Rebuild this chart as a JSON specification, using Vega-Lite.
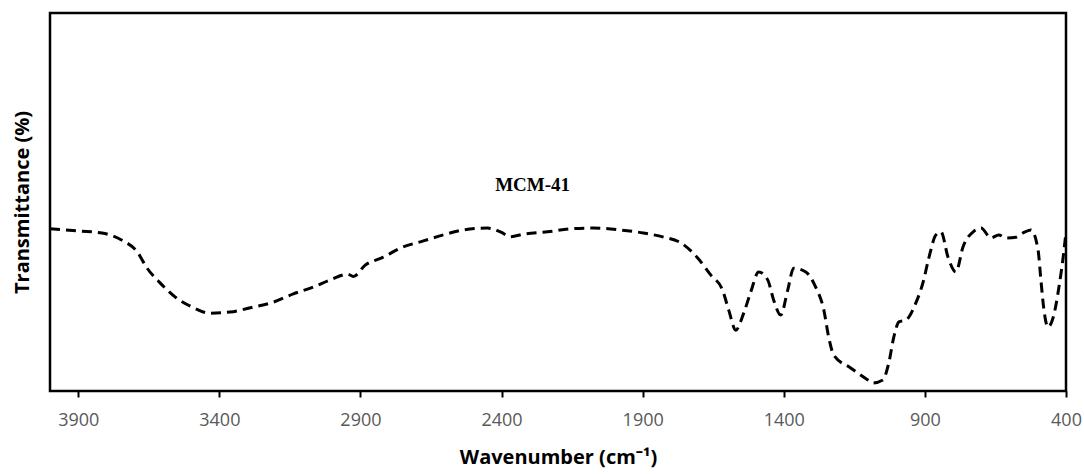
{
  "$schema": "https://vega.github.io/schema/vega-lite/v6.json",
  "autosize": {"type": "none"},
  "padding": {"left": 50, "top": 13, "right": 18, "bottom": 83},
  "width": 1016,
  "height": 378,
  "background": "white",
  "config": {
    "view": {"stroke": "black", "strokeWidth": 2.5},
    "font": "Open Sans"
  },
  "layer": [
    {
      "data": {
        "values": [
          {"wn": 4000, "t": 42.9}, {"wn": 3894, "t": 42.3}, {"wn": 3816, "t": 41.8},
          {"wn": 3745, "t": 39.9}, {"wn": 3691, "t": 36.8}, {"wn": 3656, "t": 32.5},
          {"wn": 3610, "t": 28.6}, {"wn": 3557, "t": 24.9}, {"wn": 3496, "t": 22.2},
          {"wn": 3433, "t": 20.6}, {"wn": 3362, "t": 20.9}, {"wn": 3280, "t": 22.2},
          {"wn": 3209, "t": 23.5}, {"wn": 3138, "t": 25.7}, {"wn": 3067, "t": 27.5},
          {"wn": 3007, "t": 29.4}, {"wn": 2945, "t": 30.9}, {"wn": 2925, "t": 30.3},
          {"wn": 2883, "t": 33.3}, {"wn": 2819, "t": 35.4}, {"wn": 2759, "t": 37.8},
          {"wn": 2677, "t": 39.7}, {"wn": 2606, "t": 41.3}, {"wn": 2535, "t": 42.6},
          {"wn": 2450, "t": 43.1}, {"wn": 2404, "t": 42.1}, {"wn": 2368, "t": 40.8},
          {"wn": 2322, "t": 41.5}, {"wn": 2237, "t": 42.1}, {"wn": 2156, "t": 42.9},
          {"wn": 2074, "t": 43.1}, {"wn": 1978, "t": 42.6}, {"wn": 1897, "t": 41.8},
          {"wn": 1826, "t": 40.7}, {"wn": 1765, "t": 39.2}, {"wn": 1705, "t": 35.2},
          {"wn": 1659, "t": 30.7}, {"wn": 1617, "t": 26.7}, {"wn": 1595, "t": 21.4},
          {"wn": 1570, "t": 16.1}, {"wn": 1542, "t": 20.6}, {"wn": 1517, "t": 26.2},
          {"wn": 1489, "t": 31.5}, {"wn": 1457, "t": 29.4}, {"wn": 1436, "t": 24.1},
          {"wn": 1411, "t": 20.1}, {"wn": 1386, "t": 26.7}, {"wn": 1365, "t": 32.5},
          {"wn": 1322, "t": 31.5}, {"wn": 1287, "t": 27.5}, {"wn": 1258, "t": 21.4},
          {"wn": 1241, "t": 14.3}, {"wn": 1223, "t": 9.5}, {"wn": 1163, "t": 6.1},
          {"wn": 1102, "t": 2.9}, {"wn": 1085, "t": 2.1}, {"wn": 1049, "t": 2.9},
          {"wn": 1028, "t": 7.4}, {"wn": 1010, "t": 14.3}, {"wn": 992, "t": 18.3},
          {"wn": 967, "t": 18.8}, {"wn": 932, "t": 23.3}, {"wn": 907, "t": 28.6},
          {"wn": 886, "t": 35.2}, {"wn": 861, "t": 41.3}, {"wn": 843, "t": 42.1},
          {"wn": 818, "t": 35.4}, {"wn": 790, "t": 31.5}, {"wn": 765, "t": 38.1},
          {"wn": 726, "t": 42.3}, {"wn": 701, "t": 43.1}, {"wn": 666, "t": 40.5},
          {"wn": 638, "t": 41.3}, {"wn": 613, "t": 40.5}, {"wn": 577, "t": 40.7},
          {"wn": 553, "t": 41.8}, {"wn": 524, "t": 42.6}, {"wn": 499, "t": 37.3},
          {"wn": 489, "t": 29.4}, {"wn": 478, "t": 21.4}, {"wn": 464, "t": 16.9},
          {"wn": 446, "t": 19.3}, {"wn": 425, "t": 27.5}, {"wn": 407, "t": 37.3},
          {"wn": 400, "t": 42.1}
        ]
      },
      "mark": {
        "type": "line",
        "color": "black",
        "strokeWidth": 3,
        "strokeDash": [10, 6],
        "interpolate": "monotone",
        "clip": true
      },
      "encoding": {
        "x": {
          "field": "wn",
          "type": "quantitative",
          "scale": {"domain": [400, 4000], "reverse": true, "nice": false, "zero": false},
          "axis": {
            "title": "Wavenumber (cm⁻¹)",
            "values": [3900, 3400, 2900, 2400, 1900, 1400, 900, 400],
            "format": "d",
            "grid": false,
            "domain": false,
            "ticks": true,
            "tickColor": "black",
            "tickWidth": 2,
            "tickSize": 6,
            "labelColor": "#595959",
            "labelFontSize": 18,
            "labelFont": "Open Sans",
            "labelPadding": 14,
            "labelFlush": false,
            "titleFont": "Open Sans",
            "titleFontSize": 20,
            "titleFontWeight": "bold",
            "titleColor": "black",
            "titlePadding": 18
          }
        },
        "y": {
          "field": "t",
          "type": "quantitative",
          "scale": {"domain": [0, 100], "nice": false},
          "axis": {
            "title": "Transmittance (%)",
            "labels": false,
            "ticks": false,
            "grid": false,
            "domain": false,
            "titleFont": "Open Sans",
            "titleFontSize": 20,
            "titleFontWeight": "bold",
            "titleColor": "black",
            "titlePadding": 18
          }
        }
      }
    },
    {
      "data": {"values": [{"wn": 2290, "t": 54.5, "label": "MCM-41"}]},
      "mark": {
        "type": "text",
        "font": "Liberation Serif",
        "fontWeight": "bold",
        "fontSize": 19,
        "color": "black",
        "baseline": "middle",
        "align": "center"
      },
      "encoding": {
        "x": {"field": "wn", "type": "quantitative"},
        "y": {"field": "t", "type": "quantitative"},
        "text": {"field": "label"}
      }
    }
  ]
}
